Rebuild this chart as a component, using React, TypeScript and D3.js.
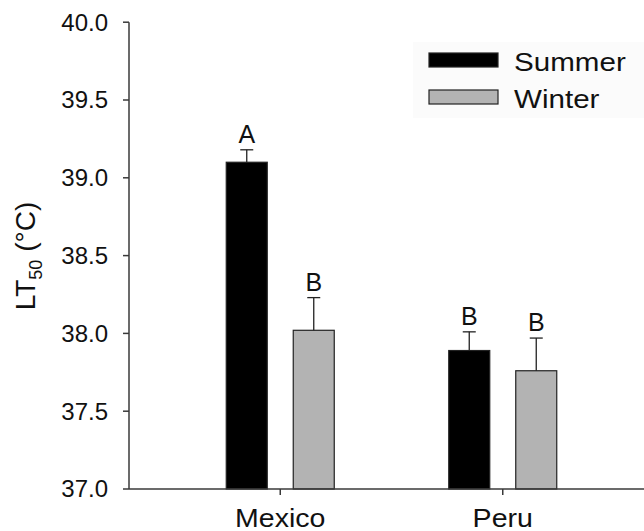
import React from 'react';
import * as d3 from 'd3';

const categories = ['Mexico', 'Peru'];
const seasons = ['Summer', 'Winter'];
const summerMeans = [39.10, 37.89];
const summerErrors = [0.08, 0.12];
const winterMeans = [38.02, 37.76];
const winterErrors = [0.21, 0.21];
const summerLetters = ['A', 'B'];
const winterLetters = ['B', 'B'];
const yTicks = [37.0, 37.5, 38.0, 38.5, 39.0, 39.5, 40.0];

const seasonColors: Record<string, string> = { Summer: '#000000', Winter: '#b3b3b3' };

const width = 644;
const height = 531;
const font = '"Liberation Sans", Arial, sans-serif';

const App: React.FC = () => {
  const axisLeft = 129;
  const axisBottom = 489;

  const yScale = d3.scaleLinear().domain([37, 40]).range([axisBottom, 22.2]);
  const xScale = d3.scaleBand<string>().domain(categories).range([169, 614]);
  const inner = d3.scaleBand<string>().domain(seasons).range([-54, 54]).paddingInner(0.388);

  // one row per bar
  const bars = categories.flatMap((c, i) => [
    { cat: c, season: 'Summer', mean: summerMeans[i], err: summerErrors[i], letter: summerLetters[i] },
    { cat: c, season: 'Winter', mean: winterMeans[i], err: winterErrors[i], letter: winterLetters[i] },
  ]);

  const center = (c: string) => (xScale(c) ?? 0) + xScale.bandwidth() / 2;
  const axisColor = '#3a3a3a';

  return (
    <svg width={width} height={height} style={{ position: 'absolute', left: 0, top: 0, background: '#fff' }}
      fontFamily={font}>
      {/* faint legend backdrop */}
      <rect x={413} y={42} width={231} height={76} fill="#fbfbfb" />

      {bars.map((b, i) => {
        const x = center(b.cat) + (inner(b.season) ?? 0);
        const w = inner.bandwidth();
        const yTop = yScale(b.mean);
        const yErr = yScale(b.mean + b.err);
        const cx = x + w / 2;
        return (
          <g key={i}>
            <rect x={x} y={yTop} width={w} height={axisBottom - yTop}
              fill={seasonColors[b.season]} stroke="#222" strokeWidth={1.2} />
            <line x1={cx} x2={cx} y1={yTop} y2={yErr} stroke="#222" strokeWidth={1.3} />
            <line x1={cx - 6.5} x2={cx + 6.5} y1={yErr} y2={yErr} stroke="#222" strokeWidth={1.3} />
            <text x={cx} y={yErr - 7} textAnchor="middle" fontSize={25} fill="#111">{b.letter}</text>
          </g>
        );
      })}

      {/* y axis */}
      <line x1={axisLeft} x2={axisLeft} y1={yScale(40)} y2={axisBottom} stroke={axisColor} strokeWidth={1.5} />
      {yTicks.map(t => (
        <g key={t}>
          <line x1={axisLeft - 6} x2={axisLeft} y1={yScale(t)} y2={yScale(t)} stroke={axisColor} strokeWidth={1.5} />
          <text x={108} y={yScale(t)} dy="0.35em" textAnchor="end" fontSize={24} fill="#111">{t.toFixed(1)}</text>
        </g>
      ))}

      {/* x axis */}
      <line x1={axisLeft} x2={width} y1={axisBottom} y2={axisBottom} stroke={axisColor} strokeWidth={1.5} />
      {categories.map(c => (
        <g key={c}>
          <line x1={center(c)} x2={center(c)} y1={axisBottom} y2={axisBottom + 6} stroke={axisColor} strokeWidth={1.5} />
          <text transform={`translate(${center(c)},527) scale(1.12,1)`} textAnchor="middle" fontSize={25.5} fill="#111">{c}</text>
        </g>
      ))}

      {/* y title */}
      <text transform="translate(35,256) rotate(-90)" textAnchor="middle" fontSize={28} fill="#111">
        LT<tspan fontSize={18} dy={7}>50</tspan><tspan dy={-7}> (°C)</tspan>
      </text>

      {/* legend */}
      {seasons.map((s, i) => (
        <g key={s} transform={`translate(429,${53 + i * 37})`}>
          <rect x={0} y={0} width={69} height={14} fill={seasonColors[s]} stroke="#222" strokeWidth={1.2} />
          <text transform="translate(85,18) scale(1.16,1)" fontSize={25.5} fill="#111">{s}</text>
        </g>
      ))}
    </svg>
  );
};

export default App;
